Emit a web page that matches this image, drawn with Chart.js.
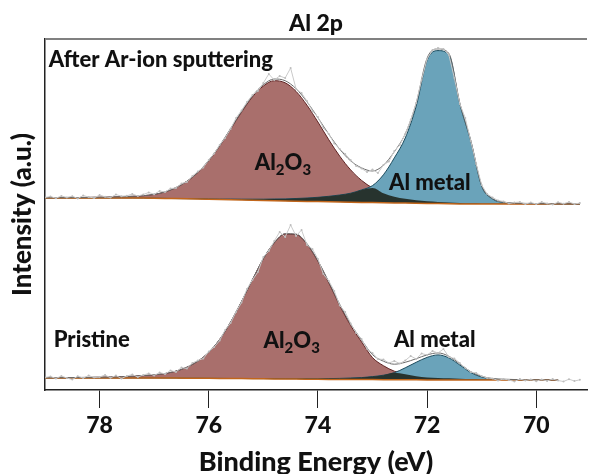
<!DOCTYPE html>
<html>
<head>
<meta charset="utf-8">
<script src="https://cdn.jsdelivr.net/npm/chart.js@4.4.0/dist/chart.umd.min.js"></script>
<style>
  body { margin: 0; background: #fff; }
</style>
</head>
<body>
<canvas id="xps" width="591" height="474"></canvas>
<script>
// Al 2p spectra, binding energy in eV, intensity in arbitrary units
var chartTitle = 'Al 2p';
var xMin = 69.07, xMax = 79.0, yMin = 0, yMax = 351;
var xTicks = [78, 76, 74, 72, 70];

// fitted components on a 0.2 eV grid
var energy = [79.0, 78.8, 78.6, 78.4, 78.2, 78.0, 77.8, 77.6, 77.4, 77.2,
              77.0, 76.8, 76.6, 76.4, 76.2, 76.0, 75.8, 75.6, 75.4, 75.2,
              75.0, 74.8, 74.6, 74.4, 74.2, 74.0, 73.8, 73.6, 73.4, 73.2,
              73.0, 72.8, 72.6, 72.4, 72.2, 72.0, 71.8, 71.6, 71.4, 71.2,
              71.0, 70.8, 70.6, 70.4, 70.2, 70.0, 69.8, 69.6, 69.4, 69.2];

// measured points on a 0.1 eV grid
var rawEnergy = [79.0, 78.9, 78.8, 78.7, 78.6, 78.5, 78.4, 78.3, 78.2, 78.1,
                 78.0, 77.9, 77.8, 77.7, 77.6, 77.5, 77.4, 77.3, 77.2, 77.1,
                 77.0, 76.9, 76.8, 76.7, 76.6, 76.5, 76.4, 76.3, 76.2, 76.1,
                 76.0, 75.9, 75.8, 75.7, 75.6, 75.5, 75.4, 75.3, 75.2, 75.1,
                 75.0, 74.9, 74.8, 74.7, 74.6, 74.5, 74.4, 74.3, 74.2, 74.1,
                 74.0, 73.9, 73.8, 73.7, 73.6, 73.5, 73.4, 73.3, 73.2, 73.1,
                 73.0, 72.9, 72.8, 72.7, 72.6, 72.5, 72.4, 72.3, 72.2, 72.1,
                 72.0, 71.9, 71.8, 71.7, 71.6, 71.5, 71.4, 71.3, 71.2, 71.1,
                 71.0, 70.9, 70.8, 70.7, 70.6, 70.5, 70.4, 70.3, 70.2, 70.1,
                 70.0, 69.9, 69.8, 69.7, 69.6, 69.5, 69.4, 69.3, 69.2];

// after Ar-ion sputtering
var topBackground = [192, 192, 192, 192, 192, 192, 192, 192, 192, 191.9,
                     191.8, 191.6, 191.4, 191.2, 191, 190.8, 190.5, 190.3, 190, 189.8,
                     189.5, 189.3, 189, 188.8, 188.6, 188.4, 188.2, 188, 187.8, 187.6,
                     187.4, 187.2, 187.1, 187, 186.8, 186.6, 186.4, 186.2, 186.1, 186,
                     186, 186, 186, 186, 186, 186, 186, 186, 186, 186];
var topOxide = [0.2, 0.3, 0.4, 0.5, 0.6, 0.8, 1, 1.3, 1.7, 2.4,
                3.8, 6.5, 11, 17.5, 26.5, 38.5, 53.5, 70.5, 87.8, 103.3,
                114.5, 120, 118.2, 109.8, 96.2, 79.6, 62, 45.8, 32.3, 22,
                14.6, 9.5, 6.2, 4.2, 3, 2.2, 1.7, 1.3, 1, 0.8,
                0.6, 0.5, 0.4, 0.3, 0.3, 0.2, 0.2, 0.1, 0.1, 0];
var topMetal = [0, 0, 0, 0, 0, 0, 0, 0, 0, 0,
                0, 0, 0, 0.1, 0.2, 0.3, 0.4, 0.6, 0.8, 1,
                1.3, 1.7, 2.1, 2.7, 3.4, 4.3, 5.5, 7, 9, 12.5,
                17, 28, 45, 65, 97, 143, 153, 149, 100, 63,
                18, 5, 1.5, 0.7, 0.3, 0.2, 0.1, 0, 0, 0];
var topRaw = [192.5, 193.5, 191.8, 194, 192.6, 193.8, 191.5, 194.5, 193, 192,
              195, 193.2, 192.5, 195.5, 193.8, 194.2, 196, 194, 195.5, 197.5,
              195.8, 199, 198, 201.5, 202, 206.5, 208, 214, 218.5, 222.5,
              230, 236.5, 245, 252, 261, 272, 279.5, 288, 295, 299,
              307, 316, 310, 314, 312, 322, 301, 297, 289, 279,
              273, 262, 256, 246.5, 241, 236, 230, 224, 221.5, 218,
              220.5, 217, 225, 228.5, 239, 245, 256, 270, 287, 310,
              331, 340, 342, 341, 335, 312, 286, 272, 249, 226,
              205, 196, 192.5, 189.5, 188.5, 186.5, 187.5, 188, 186, 187.5,
              186, 188, 186.5, 185.5, 187.8, 186.3, 188, 186, 187];

// pristine
var bottomBackground = [12, 12, 12, 12, 12, 12, 12, 12, 12, 12,
                        12, 11.9, 11.9, 11.8, 11.8, 11.7, 11.6, 11.5, 11.4, 11.3,
                        11.2, 11.1, 11, 10.9, 10.8, 10.7, 10.6, 10.5, 10.5, 10.4,
                        10.4, 10.3, 10.3, 10.2, 10.2, 10.1, 10.1, 10.1, 10, 10,
                        10, 10, 10, 10, 10, 10, 10, 10, null, null];
var bottomOxide = [0.2, 0.3, 0.4, 0.5, 0.6, 0.8, 1, 1.3, 1.8, 2.4,
                   3.2, 4.6, 7, 11, 17, 26, 39, 56.4, 77, 99,
                   120, 136, 145, 144.6, 135, 118, 96.6, 74, 54, 37.7,
                   22, 14, 8.5, 5.5, 3.6, 2.5, 2, 1.6, 1.2, 0.9,
                   0.7, 0.5, 0.4, 0.3, 0.2, 0.2, 0.1, 0.1, null, null];
var bottomMetal = [0, 0, 0, 0, 0, 0, 0, 0, 0, 0,
                   0, 0, 0, 0, 0, 0, 0, 0, 0.1, 0.15,
                   0.2, 0.25, 0.3, 0.4, 0.5, 0.6, 0.8, 1.1, 1.5, 2,
                   3, 4.5, 7, 12, 17.5, 22.5, 25, 22, 15, 7.5,
                   3, 1, 0.4, 0.2, 0, 0, 0, 0, null, null];
var bottomRaw = [12.5, 13.5, 11.5, 14, 12, 10.5, 13.8, 12, 14.5, 12.5,
                 13, 15, 12.2, 14.5, 11.5, 14, 15.5, 13, 15, 16.5,
                 14.5, 17.5, 16, 19.5, 18, 22.5, 21.5, 27, 29.5, 31.5,
                 38.5, 43, 49.5, 60, 67, 78, 87.5, 101, 110, 118,
                 133, 139, 149, 158, 153, 165, 154, 160, 145, 141,
                 131, 116, 109, 99, 84.5, 78, 66.5, 57, 51, 41,
                 37, 31, 30.5, 27, 29, 26.5, 29.5, 34, 31, 36.5,
                 35, 39, 37, 41, 33, 31.5, 27, 22, 18, 17,
                 14, 12, 11.5, 9.5, 11, 10, 8.5, 11, 9.5, 10.5,
                 8.8, 10.5, 9, 11, 9.5, 8.5, 10.8, 9, 10.2];

// text labels: [text parts, energy, intensity, align]
var labels = [
  { parts: [['After Ar-ion sputtering', 0]], e: 78.93, v: 323, align: 'left' },
  { parts: [['Al', 0], ['2', 1], ['O', 0], ['3', 1]], e: 74.64, v: 220, align: 'center' },
  { parts: [['Al metal', 0]], e: 71.95, v: 200, align: 'center' },
  { parts: [['Pristine', 0]], e: 78.84, v: 43, align: 'left' },
  { parts: [['Al', 0], ['2', 1], ['O', 0], ['3', 1]], e: 74.48, v: 42, align: 'center' },
  { parts: [['Al metal', 0]], e: 71.86, v: 43, align: 'center' }
];

var bigFont = '900 22px Lato';
var subFont = '900 15px Lato';

function stack(base, comp) {
  return base.map(function (b, i) { return b === null ? null : b + comp[i]; });
}
function smaller(a, b) {
  return a.map(function (v, i) { return v === null ? null : Math.min(v, b[i]); });
}
function points(xs, ys) {
  return xs.map(function (x, i) { return { x: x, y: ys[i] }; });
}

function spectrum(bg, ox, met, raw, base) {
  return [
    { label: 'background', data: points(energy, bg), borderColor: '#c2661b', borderWidth: 1.5,
      pointRadius: 0, fill: false, order: 3 },
    { label: 'Al2O3', data: points(energy, stack(bg, ox)), borderColor: '#5e2222', borderWidth: 1,
      backgroundColor: '#a96f6c', fill: base, pointRadius: 0, cubicInterpolationMode: 'monotone', order: 6 },
    { label: 'Al metal', data: points(energy, stack(bg, met)), borderColor: '#1b4a5c', borderWidth: 1,
      backgroundColor: '#6aa3ba', fill: base, pointRadius: 0, cubicInterpolationMode: 'monotone', order: 5 },
    { label: 'overlap', data: points(energy, stack(bg, smaller(ox, met))), borderWidth: 0,
      borderColor: 'rgba(0,0,0,0)', backgroundColor: '#27332e', fill: base, pointRadius: 0,
      cubicInterpolationMode: 'monotone', order: 4 },
    { label: 'envelope', data: points(energy, stack(stack(bg, ox), met)), borderColor: '#6b6b6b',
      borderWidth: 1, pointRadius: 0, fill: false, cubicInterpolationMode: 'monotone', order: 2 },
    { label: 'raw', data: points(rawEnergy, raw), borderColor: '#cacaca', borderWidth: 1,
      pointRadius: 1, pointBackgroundColor: '#bdbdbd', pointBorderWidth: 0, fill: false, order: 1 }
  ];
}

var datasets = spectrum(topBackground, topOxide, topMetal, topRaw, 0)
  .concat(spectrum(bottomBackground, bottomOxide, bottomMetal, bottomRaw, 6));

var textPlugin = {
  id: 'texts',
  afterDraw: function (chart) {
    var ctx = chart.ctx, area = chart.chartArea;
    var sx = chart.scales.x, sy = chart.scales.y;
    ctx.save();
    ctx.strokeStyle = '#808080';
    ctx.lineWidth = 2;
    ctx.beginPath();
    ctx.moveTo(area.left, area.top);
    ctx.lineTo(area.right, area.top);
    ctx.stroke();

    ctx.fillStyle = '#111';
    ctx.textBaseline = 'alphabetic';
    ctx.textAlign = 'center';
    ctx.font = '900 23px Lato';
    ctx.fillText(chartTitle, (area.left + area.right) / 2, 31);

    ctx.textAlign = 'left';
    labels.forEach(function (lb) {
      var total = 0;
      lb.parts.forEach(function (p) {
        ctx.font = p[1] ? subFont : bigFont;
        total += ctx.measureText(p[0]).width;
      });
      var x = sx.getPixelForValue(lb.e);
      var y = sy.getPixelForValue(lb.v);
      if (lb.align === 'center') x -= total / 2;
      lb.parts.forEach(function (p) {
        ctx.font = p[1] ? subFont : bigFont;
        ctx.fillText(p[0], x, p[1] ? y + 5 : y);
        x += ctx.measureText(p[0]).width;
      });
    });
    ctx.restore();
  }
};

Chart.defaults.font.family = 'Lato';
Chart.defaults.color = '#111';

new Chart(document.getElementById('xps').getContext('2d'), {
  type: 'line',
  data: { datasets: datasets },
  plugins: [textPlugin],
  options: {
    responsive: false,
    animation: false,
    layout: { padding: { top: 39, right: 0, bottom: 0, left: 0 } },
    plugins: {
      legend: { display: false },
      tooltip: { enabled: false },
      title: { display: false }
    },
    scales: {
      x: {
        type: 'linear',
        reverse: true,
        min: xMin,
        max: xMax,
        afterBuildTicks: function (s) { s.ticks = xTicks.map(function (v) { return { value: v }; }); },
        afterFit: function (s) { s.height = 84; },
        grid: { drawOnChartArea: false, drawTicks: true, tickLength: 18, color: '#222', lineWidth: 1 },
        border: { display: true, color: '#222', width: 1.5 },
        ticks: { color: '#111', font: { size: 23, weight: 900 }, padding: 4, maxRotation: 0 },
        title: { display: true, text: 'Binding Energy (eV)', color: '#111',
                 font: { size: 27, weight: 900 }, padding: { top: 0, bottom: -4 } }
      },
      y: {
        type: 'linear',
        min: yMin,
        max: yMax,
        afterFit: function (s) { s.width = 45; },
        grid: { display: true, drawOnChartArea: false, drawTicks: false },
        border: { display: true, color: '#222', width: 1.5 },
        ticks: { display: false },
        title: { display: true, text: 'Intensity (a.u.)', color: '#111',
                 font: { size: 26, weight: 900 }, padding: { top: 7.4, bottom: 0 } }
      }
    }
  }
});
</script>
</body>
</html>
